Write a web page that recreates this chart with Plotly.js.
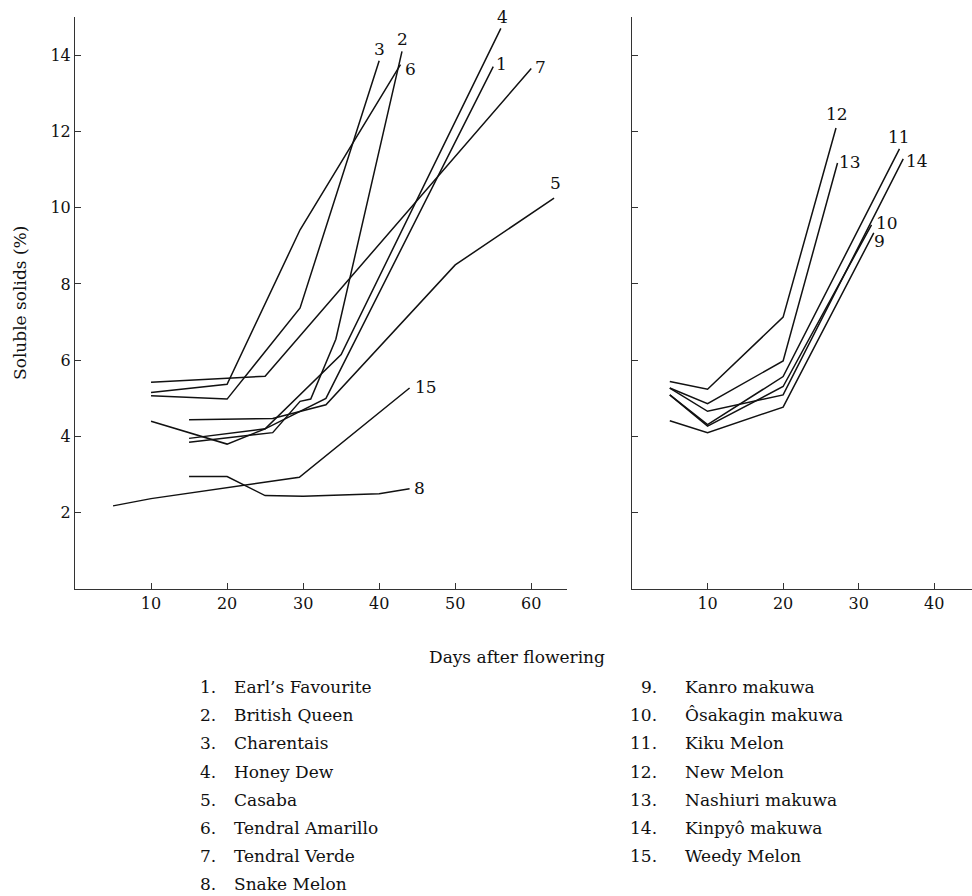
<!DOCTYPE html>
<html><head><meta charset="utf-8">
<script src="https://cdn.plot.ly/plotly-3.0.1.min.js"></script>
<style>html,body{margin:0;padding:0;background:#fff}#chart{width:972px;height:896px}</style>
</head><body><div id="chart"></div>
<script>
// ---- cultivar names (legend list) ----
const cultivarIds = [1,2,3,4,5,6,7,8,9,10,11,12,13,14,15];
const cultivarNames = ["Earl’s Favourite","British Queen","Charentais","Honey Dew","Casaba",
  "Tendral Amarillo","Tendral Verde","Snake Melon","Kanro makuwa","Ôsakagin makuwa",
  "Kiku Melon","New Melon","Nashiuri makuwa","Kinpyô makuwa","Weedy Melon"];

// ---- left panel series (days after flowering, soluble solids %) ----
const days1 = [15,25,33,55];               const solids1 = [3.95,4.2,5.0,13.7];
const days2 = [15,26,29.6,31,34.3,43];     const solids2 = [3.85,4.1,4.92,4.98,6.55,14.1];
const days3 = [10,20,29.6,40];             const solids3 = [5.07,4.98,7.37,13.85];
const days4 = [10,20,25,35,56];            const solids4 = [4.4,3.8,4.2,6.15,14.7];
const days5 = [15,26,33,50,63];            const solids5 = [4.44,4.47,4.83,8.5,10.25];
const days6 = [10,20,29.6,42.8];           const solids6 = [5.15,5.37,9.42,13.75];
const days7 = [10,25,60];                  const solids7 = [5.42,5.58,13.65];
const days8 = [15,20,25,30,40,44];         const solids8 = [2.95,2.95,2.45,2.43,2.5,2.63];
const days15 = [5,10,29.5,44];             const solids15 = [2.18,2.37,2.93,5.27];

// ---- right panel series ----
const days9 = [5,10,20,32];                const solids9 = [4.41,4.1,4.77,9.34];
const days10 = [5,10,20,31.7];             const solids10 = [5.09,4.27,5.31,9.55];
const days11 = [5,10,20,35.4];             const solids11 = [5.09,4.31,5.57,11.54];
const days12 = [5,10,20,27];               const solids12 = [5.44,5.24,7.13,12.09];
const days13 = [5,10,20,27.2];             const solids13 = [5.27,4.86,5.98,11.17];
const days14 = [5,10,20,35.9];             const solids14 = [5.27,4.66,5.09,11.28];

// ---- axis ticks ----
const yTicks = [2,4,6,8,10,12,14];
const xTicksLeft = [10,20,30,40,50,60];
const xTicksRight = [10,20,30,40];

const seriesList = [
  {id:1, x:days1, y:solids1, panel:1}, {id:2, x:days2, y:solids2, panel:1},
  {id:3, x:days3, y:solids3, panel:1}, {id:4, x:days4, y:solids4, panel:1},
  {id:5, x:days5, y:solids5, panel:1}, {id:6, x:days6, y:solids6, panel:1},
  {id:7, x:days7, y:solids7, panel:1}, {id:8, x:days8, y:solids8, panel:1},
  {id:15, x:days15, y:solids15, panel:1},
  {id:9, x:days9, y:solids9, panel:2}, {id:10, x:days10, y:solids10, panel:2},
  {id:11, x:days11, y:solids11, panel:2}, {id:12, x:days12, y:solids12, panel:2},
  {id:13, x:days13, y:solids13, panel:2}, {id:14, x:days14, y:solids14, panel:2}
];

// label pixel offsets from each line's end (style, not data)
const labelShift = {1:[8,3],2:[1,12],3:[0,12],4:[2,11],5:[1,15],6:[10,-4],7:[9,1],8:[10,1],15:[16,1],
  9:[6,-8],10:[15,2],11:[0,12],12:[1,14],13:[12,1],14:[14,-2]};

const FONT = "DejaVu Serif, Liberation Serif, serif";
const W = 972, H = 896;

const traces = seriesList.map(s => ({
  type:'scatter', mode:'lines', x:s.x, y:s.y,
  xaxis: s.panel===1 ? 'x' : 'x2', yaxis: s.panel===1 ? 'y' : 'y2',
  line:{color:'#111', width:1.5}, hoverinfo:'skip', showlegend:false
}));

const annotations = [];
seriesList.forEach(s => {
  const n = s.x.length, sh = labelShift[s.id];
  annotations.push({
    x:s.x[n-1], y:s.y[n-1], xref: s.panel===1?'x':'x2', yref: s.panel===1?'y':'y2',
    text:String(s.id), showarrow:false, xanchor:'center', yanchor:'middle',
    xshift:sh[0], yshift:sh[1], font:{family:FONT, size:17, color:'#111'}
  });
});

// axis titles
annotations.push({xref:'paper', yref:'paper', x:517/W, y:(H-657)/H, text:'Days after flowering',
  showarrow:false, xanchor:'center', yanchor:'middle', font:{family:FONT, size:17, color:'#111'}});
annotations.push({xref:'paper', yref:'paper', x:20/W, y:(H-303)/H, text:'Soluble solids (%)',
  textangle:-90, showarrow:false, xanchor:'center', yanchor:'middle', font:{family:FONT, size:17, color:'#111'}});

// legend list
cultivarIds.forEach((id, i) => {
  const left = id <= 8;
  const row = left ? i : i - 8;
  const py = 687 + 28.2 * row;
  const numRight = left ? 218 : 659;
  const nameLeft = left ? 232 : 683;
  annotations.push({xref:'paper', yref:'paper', x:numRight/W, y:(H-py)/H, text:id + '.',
    showarrow:false, xanchor:'right', yanchor:'middle', font:{family:FONT, size:17, color:'#111'}});
  annotations.push({xref:'paper', yref:'paper', x:nameLeft/W, y:(H-py)/H, text:cultivarNames[i],
    showarrow:false, xanchor:'left', yanchor:'middle', font:{family:FONT, size:17, color:'#111'}});
});

const axBase = {showgrid:false, zeroline:false, showline:true, linecolor:'#333', linewidth:1,
  ticks:'inside', ticklen:6, tickcolor:'#333', tickfont:{family:FONT, size:16, color:'#111'}, fixedrange:true};
const yDomain = [(H-589)/H, (H-17)/H];

const layout = {
  width:W, height:H, margin:{l:0, r:0, t:0, b:0},
  paper_bgcolor:'#fff', plot_bgcolor:'#fff', showlegend:false,
  xaxis: Object.assign({}, axBase, {domain:[75/W, 567/W], range:[0,64.7], tickvals:xTicksLeft, anchor:'y'}),
  yaxis: Object.assign({}, axBase, {domain:yDomain, range:[0,15], tickvals:yTicks, anchor:'x'}),
  xaxis2: Object.assign({}, axBase, {domain:[632/W, 1], range:[0,45], tickvals:xTicksRight, anchor:'y2'}),
  yaxis2: Object.assign({}, axBase, {domain:yDomain, range:[0,15], tickvals:yTicks, showticklabels:false, anchor:'x2'}),
  annotations: annotations
};

Plotly.newPlot('chart', traces, layout, {displayModeBar:false, staticPlot:true});
</script>
</body></html>
